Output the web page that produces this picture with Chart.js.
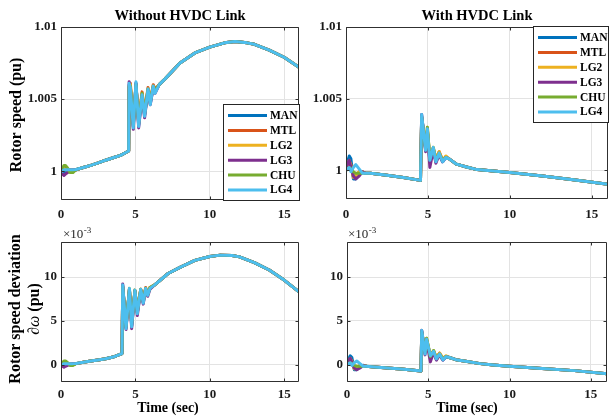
<!DOCTYPE html>
<html>
<head>
<meta charset="utf-8">
<script src="https://cdn.jsdelivr.net/npm/chart.js@4.4.1/dist/chart.umd.min.js"></script>
<style>
  html, body { margin: 0; padding: 0; background: #fff; }
  #page { position: relative; width: 610px; height: 416px; overflow: hidden; }
  .panel { position: absolute; }
</style>
</head>
<body>
<div id="page">
  <canvas id="tl" class="panel" width="305" height="225" style="left:0;top:0"></canvas>
  <canvas id="tr" class="panel" width="305" height="225" style="left:305px;top:0"></canvas>
  <canvas id="bl" class="panel" width="305" height="191" style="left:0;top:225px"></canvas>
  <canvas id="br" class="panel" width="305" height="191" style="left:305px;top:225px"></canvas>
</div>
<script>
//-----------------------------------------------------
// Rotor speed, with / without HVDC link (2x2 panels)
//-----------------------------------------------------

const FONT = '"Liberation Serif", "Times New Roman", serif';

const series = ['MAN', 'MTL', 'LG2', 'LG3', 'CHU', 'LG4'];
const colors = ['#0072BD', '#D95319', '#EDB120', '#7E2F8E', '#77AC30', '#4DBEEE'];

const xTicks = [0, 5, 10, 15];
const xTickLabels = ['0', '5', '10', '15'];
const speedTicks = [1, 1.005, 1.01];
const speedTickLabels = ['1', '1.005', '1.01'];
const devTicks = [0, 5, 10];
const devTickLabels = ['0', '5', '10'];

// ---- top left: rotor speed (pu), without HVDC ----
const timeTL = [0, 0.1, 0.2, 0.3, 0.45, 0.6, 0.8, 1.0,
                1.5, 2, 2.5, 3, 3.5, 4, 4.55,
                4.58, 4.66, 4.86, 5.04, 5.22, 5.45, 5.62, 5.85, 6.0, 6.2, 6.32,
                6.6, 7, 8, 9, 10, 11, 11.7, 12.5, 13, 14, 15, 16];
const earlyTL = [
  [1.0000, 0.9999, 0.9999, 1.0000, 1.0001, 1.0001, 1.0001, 1.0001],
  [1.0000, 1.0001, 1.0002, 1.0002, 1.0001, 1.0001, 1.0001, 1.0001],
  [1.0000, 1.0001, 1.0002, 1.0001, 1.0001, 1.0000, 1.0001, 1.0001],
  [1.0000, 0.9998, 0.9997, 0.9998, 0.9999, 1.0000, 1.0001, 1.0001],
  [1.0000, 1.0002, 1.0004, 1.0004, 1.0002, 0.9999, 0.9999, 1.0001],
  [1.0000, 1.0000, 1.0001, 1.0001, 1.0001, 1.0001, 1.0001, 1.00012]
];
const midTL = [1.00025, 1.0004, 1.00057, 1.00076, 1.00093, 1.0011, 1.0014];
const oscTL = [
  [1.0060, 1.0059, 1.0031, 1.0061, 1.0032, 1.0053, 1.0039, 1.0056, 1.0047, 1.0058, 1.0055],
  [1.0058, 1.0061, 1.0034, 1.0060, 1.0035, 1.0055, 1.0041, 1.0058, 1.0049, 1.0060, 1.0057],
  [1.0059, 1.0060, 1.0033, 1.0059, 1.0034, 1.0054, 1.0040, 1.0057, 1.0049, 1.0059, 1.0056],
  [1.0062, 1.0056, 1.0029, 1.0061, 1.0030, 1.0052, 1.0037, 1.0056, 1.0046, 1.0058, 1.0054],
  [1.0059, 1.0059, 1.0032, 1.0060, 1.0033, 1.0054, 1.0040, 1.0057, 1.0048, 1.0059, 1.0056],
  [1.0061, 1.0058, 1.0030, 1.0062, 1.0031, 1.0053, 1.0038, 1.0057, 1.0046, 1.0059, 1.0054]
];
const tailTL = [1.0060, 1.0064, 1.0075, 1.0082, 1.0086, 1.0089, 1.0090, 1.0089, 1.0088, 1.0084, 1.0079, 1.0072];

// ---- top right: rotor speed (pu), with HVDC ----
const timeTR = [0, 0.1, 0.2, 0.3, 0.45, 0.6, 0.8, 1.0, 1.2,
                1.5, 2.5, 3.5, 4.55,
                4.62, 4.86, 4.97, 5.12, 5.33, 5.49, 5.69, 5.9, 6.1,
                6.3, 6.75, 7.3, 8, 9, 10, 12, 14, 16];
const earlyTR = [
  [1.0000, 1.0006, 1.0010, 1.0008, 0.9994, 0.9994, 0.9998, 0.9999, 0.9998],
  [1.0000, 1.0003, 1.0006, 1.0004, 0.9996, 0.9995, 0.9999, 0.9999, 0.9998],
  [1.0000, 1.0004, 1.0007, 1.0003, 0.9995, 0.9996, 0.9999, 0.9999, 0.9998],
  [1.0000, 1.0005, 1.0007, 1.0002, 0.9996, 0.9994, 0.9996, 0.9999, 0.9998],
  [1.0000, 1.0001, 1.0002, 1.0001, 0.9999, 0.9998, 0.9998, 0.9998, 0.9998],
  [1.0000, 1.0001, 1.0002, 0.9999, 1.0002, 1.0004, 1.0001, 0.9998, 0.9998]
];
const midTR = [0.9998, 0.99965, 0.9995, 0.9993];
const oscTR = [
  [1.0038, 1.0015, 1.0028, 1.0006, 1.0015, 1.0006, 1.0011, 1.0006, 1.0009],
  [1.0037, 1.0016, 1.0028, 1.0008, 1.0015, 1.0008, 1.0013, 1.0007, 1.0009],
  [1.0037, 1.0016, 1.0030, 1.0008, 1.0016, 1.0008, 1.0013, 1.0007, 1.0010],
  [1.0039, 1.0013, 1.0027, 1.0002, 1.0014, 1.0005, 1.0011, 1.0006, 1.0009],
  [1.0037, 1.0015, 1.0030, 1.0008, 1.0016, 1.0007, 1.0012, 1.0007, 1.0009],
  [1.0039, 1.0014, 1.0029, 1.0007, 1.0016, 1.0006, 1.0012, 1.0006, 1.0009]
];
const tailTR = [1.0008, 1.00043, 1.00025, 1.00005, 0.99995, 0.99985, 0.9996, 0.99932, 0.99903];

// ---- bottom left: speed deviation (x1e-3 pu), without HVDC ----
const timeBL = [0, 0.1, 0.2, 0.3, 0.45, 0.6, 0.8, 1.0,
                1.5, 2, 2.5, 3, 3.5, 4.1,
                4.15, 4.37, 4.6, 4.75, 4.97, 5.13, 5.36, 5.53, 5.69, 5.83, 5.98,
                6.3, 7.2, 8, 9, 10, 10.7, 11.5, 12, 13, 14, 15, 16];
const earlyBL = [
  [0, -0.1, -0.1, 0, 0.1, 0.1, 0.1, 0.1],
  [0, 0.1, 0.2, 0.2, 0.1, 0.1, 0.1, 0.1],
  [0, 0.1, 0.2, 0.1, 0.1, 0.0, 0.1, 0.1],
  [0, -0.2, -0.3, -0.2, -0.1, 0.0, 0.1, 0.1],
  [0, 0.2, 0.4, 0.4, 0.2, -0.1, -0.1, 0.1],
  [0, 0.0, 0.1, 0.1, 0.1, 0.1, 0.1, 0.12]
];
const midBL = [0.25, 0.4, 0.52, 0.65, 0.85, 1.25];
const oscBL = [
  [9.0, 4.2, 8.6, 4.4, 8.4, 5.9, 8.5, 7.1, 8.6, 8.0, 8.7],
  [8.8, 4.5, 8.5, 4.8, 8.4, 6.2, 8.6, 7.3, 8.8, 8.1, 8.8],
  [8.9, 4.4, 8.6, 4.7, 8.5, 6.1, 8.6, 7.2, 8.7, 8.1, 8.8],
  [9.2, 4.0, 8.6, 4.1, 8.4, 5.6, 8.5, 6.9, 8.6, 7.8, 8.6],
  [8.9, 4.3, 8.7, 4.6, 8.5, 6.0, 8.6, 7.2, 8.7, 8.0, 8.8],
  [9.1, 4.1, 8.7, 4.3, 8.5, 5.8, 8.6, 7.0, 8.7, 7.9, 8.7]
];
const tailBL = [9.1, 10.4, 11.1, 11.9, 12.35, 12.5, 12.45, 12.3, 11.65, 10.8, 9.65, 8.3];

// ---- bottom right: speed deviation (x1e-3 pu), with HVDC ----
const timeBR = [0, 0.1, 0.2, 0.3, 0.45, 0.6, 0.8, 1.0, 1.2,
                1.5, 2.5, 3.5, 4.55,
                4.6, 4.8, 4.9, 5.13, 5.33, 5.5, 5.7, 5.9, 6.1,
                6.3, 6.7, 7.3, 8.2, 9, 10, 12, 14, 16];
const earlyBR = [
  [0, 0.6, 1.0, 0.8, -0.6, -0.6, -0.2, -0.1, -0.2],
  [0, 0.3, 0.6, 0.4, -0.4, -0.5, -0.1, -0.1, -0.2],
  [0, 0.4, 0.7, 0.3, -0.5, -0.4, -0.1, -0.1, -0.2],
  [0, 0.5, 0.7, 0.2, -0.4, -0.6, -0.4, -0.1, -0.2],
  [0, 0.1, 0.2, 0.1, -0.1, -0.2, -0.2, -0.2, -0.2],
  [0, 0.1, 0.2, -0.1, 0.2, 0.4, 0.1, -0.2, -0.2]
];
const midBR = [-0.25, -0.4, -0.55, -0.75];
const oscBR = [
  [3.8, 1.3, 2.8, 0.8, 1.4, 0.6, 1.1, 0.55, 0.9],
  [3.7, 1.5, 2.8, 1.0, 1.5, 0.8, 1.3, 0.65, 0.9],
  [3.7, 1.5, 3.0, 1.0, 1.6, 0.8, 1.3, 0.7, 1.0],
  [3.9, 1.1, 2.7, 0.3, 1.4, 0.5, 1.1, 0.5, 0.9],
  [3.7, 1.4, 3.0, 0.9, 1.6, 0.7, 1.2, 0.65, 0.9],
  [3.9, 1.2, 2.9, 1.0, 1.5, 0.64, 1.2, 0.53, 0.9]
];
const tailBR = [0.8, 0.55, 0.38, 0.1, -0.05, -0.2, -0.45, -0.7, -1.05];

function buildDatasets(time, early, mid, osc, tail) {
    return series.map((name, i) => {
        const ys = [...early[i], ...mid, ...osc[i], ...tail];
        return {
            label: name,
            data: time.map((t, k) => ({ x: t, y: ys[k] })),
            borderColor: colors[i],
            backgroundColor: colors[i],
            borderWidth: 3,
            borderJoinStyle: 'round',
            pointRadius: 0,
            tension: 0,
            order: series.length - 1 - i   // LG4 ends up on top, like the plot order
        };
    });
}

// MATLAB-ish axes box, inward ticks, titles, labels and legend
function decor(cfg) {
    return {
        id: 'decor',
        afterDraw(chart) {
            const ctx = chart.ctx;
            const a = chart.chartArea;
            const sx = chart.scales.x, sy = chart.scales.y;
            const L = Math.round(a.left) + 0.5, R = Math.round(a.right) - 0.5;
            const T = Math.round(a.top) + 0.5, B = Math.round(a.bottom) - 0.5;
            ctx.save();

            ctx.strokeStyle = '#303030';
            ctx.lineWidth = 1;
            ctx.beginPath();
            ctx.rect(L, T, R - L, B - T);
            xTicks.forEach(v => {
                const px = Math.round(sx.getPixelForValue(v)) + 0.5;
                ctx.moveTo(px, B); ctx.lineTo(px, B - 3);
                ctx.moveTo(px, T); ctx.lineTo(px, T + 3);
            });
            cfg.yTicks.forEach(v => {
                const py = Math.round(sy.getPixelForValue(v)) + 0.5;
                ctx.moveTo(L, py); ctx.lineTo(L + 3, py);
                ctx.moveTo(R, py); ctx.lineTo(R - 3, py);
            });
            ctx.stroke();

            ctx.fillStyle = '#000';
            ctx.textBaseline = 'middle';
            ctx.textAlign = 'center';

            if (cfg.title) {
                ctx.font = 'bold 14.5px ' + FONT;
                ctx.fillText(cfg.title, cfg.titleX, cfg.titleY);
            }

            if (cfg.yLabel) {
                ctx.save();
                ctx.translate(cfg.yLabelX, cfg.yLabelY);
                ctx.rotate(-Math.PI / 2);
                ctx.font = 'bold 16px ' + FONT;
                ctx.fillText(cfg.yLabel, 0, 0);
                ctx.restore();
            }

            if (cfg.yLabel2X) {
                // second line: italic d-omega then bold (pu)
                ctx.save();
                ctx.translate(cfg.yLabel2X, cfg.yLabelY);
                ctx.rotate(-Math.PI / 2);
                ctx.textAlign = 'left';
                ctx.font = 'italic 16px ' + FONT;
                const w1 = ctx.measureText('∂ω').width;
                ctx.font = 'bold 16px ' + FONT;
                const w2 = ctx.measureText(' (pu)').width;
                const x0 = -(w1 + w2) / 2;
                ctx.font = 'italic 16px ' + FONT;
                ctx.fillText('∂ω', x0, 0);
                ctx.font = 'bold 16px ' + FONT;
                ctx.fillText(' (pu)', x0 + w1, 0);
                ctx.restore();
            }

            if (cfg.xLabel) {
                ctx.font = 'bold 14px ' + FONT;
                ctx.fillText(cfg.xLabel, cfg.xLabelX, cfg.xLabelY);
            }

            if (cfg.exponent) {
                ctx.textAlign = 'left';
                ctx.textBaseline = 'alphabetic';
                ctx.font = '13px ' + FONT;
                ctx.fillStyle = '#262626';
                const ex = cfg.exponent.x, ey = cfg.exponent.y;
                ctx.fillText('×10', ex, ey);
                const w = ctx.measureText('×10').width;
                ctx.font = '9px ' + FONT;
                ctx.fillText('-3', ex + w + 0.5, ey - 5);
            }

            if (cfg.legend) {
                const lg = cfg.legend;
                ctx.fillStyle = '#fff';
                ctx.fillRect(lg.x, lg.y, lg.w, lg.h);
                ctx.strokeStyle = '#262626';
                ctx.lineWidth = 1;
                ctx.strokeRect(lg.x + 0.5, lg.y + 0.5, lg.w - 1, lg.h - 1);
                ctx.font = 'bold 11.5px ' + FONT;
                ctx.textAlign = 'left';
                ctx.textBaseline = 'middle';
                chart.data.datasets.forEach((ds, i) => {
                    const ly = lg.y + 11.5 + i * 14.9;
                    ctx.strokeStyle = ds.borderColor;
                    ctx.lineWidth = 3;
                    ctx.beginPath();
                    ctx.moveTo(lg.x + 5, ly);
                    ctx.lineTo(lg.x + 44, ly);
                    ctx.stroke();
                    ctx.fillStyle = '#000';
                    ctx.fillText(ds.label, lg.x + 47, ly + 0.5);
                });
            }
            ctx.restore();
        }
    };
}

function makePanel(id, p) {
    const ctx = document.getElementById(id);
    return new Chart(ctx.getContext('2d'), {
        type: 'line',
        data: { datasets: p.datasets },
        options: {
            responsive: false,
            animation: false,
            events: [],
            layout: { padding: p.padding },
            plugins: { legend: { display: false }, tooltip: { enabled: false } },
            scales: {
                x: {
                    type: 'linear',
                    min: 0,
                    max: 16,
                    afterBuildTicks: s => { s.ticks = xTicks.map(v => ({ value: v })); },
                    afterFit: s => { s.height = p.xAxisHeight; s.paddingLeft = 0; s.paddingRight = 0; },
                    grid: { color: '#e3e3e3', drawTicks: false },
                    border: { display: false },
                    ticks: {
                        padding: p.xTickPad,
                        maxRotation: 0,
                        color: '#1a1a1a',
                        font: { family: FONT, size: 13, weight: 'bold' },
                        callback: (v, i) => xTickLabels[i]
                    }
                },
                y: {
                    type: 'linear',
                    min: p.yMin,
                    max: p.yMax,
                    afterBuildTicks: s => { s.ticks = p.yTicks.map(v => ({ value: v })); },
                    afterFit: s => { s.width = p.yAxisWidth; s.paddingTop = 0; s.paddingBottom = 0; },
                    grid: { color: '#e3e3e3', drawTicks: false },
                    border: { display: false },
                    ticks: {
                        padding: 4,
                        color: '#1a1a1a',
                        font: { family: FONT, size: 13, weight: 'bold' },
                        callback: (v, i) => p.yTickLabels[i]
                    }
                }
            }
        },
        plugins: [decor(p.decor)]
    });
}

makePanel('tl', {
    datasets: buildDatasets(timeTL, earlyTL, midTL, oscTL, tailTL),
    yMin: 0.998, yMax: 1.01, yTicks: speedTicks, yTickLabels: speedTickLabels,
    padding: { left: 0, top: 27, right: 6, bottom: 0 },
    yAxisWidth: 61, xAxisHeight: 25, xTickPad: 7,
    decor: {
        yTicks: speedTicks,
        title: 'Without HVDC Link', titleX: 180, titleY: 16,
        yLabel: 'Rotor speed (pu)', yLabelX: 17, yLabelY: 115,
        legend: { x: 223, y: 104, w: 77, h: 97 }
    }
});

makePanel('tr', {
    datasets: buildDatasets(timeTR, earlyTR, midTR, oscTR, tailTR),
    yMin: 0.998, yMax: 1.01, yTicks: speedTicks, yTickLabels: speedTickLabels,
    padding: { left: 0, top: 27, right: 2, bottom: 0 },
    yAxisWidth: 41, xAxisHeight: 26, xTickPad: 8,
    decor: {
        yTicks: speedTicks,
        title: 'With HVDC Link', titleX: 172, titleY: 16,
        legend: { x: 228, y: 26, w: 76, h: 97 }
    }
});

makePanel('bl', {
    datasets: buildDatasets(timeBL, earlyBL, midBL, oscBL, tailBL),
    yMin: -2, yMax: 14, yTicks: devTicks, yTickLabels: devTickLabels,
    padding: { left: 0, top: 17, right: 6, bottom: 0 },
    yAxisWidth: 61, xAxisHeight: 34, xTickPad: 5,
    decor: {
        yTicks: devTicks,
        yLabel: 'Rotor speed deviation', yLabelX: 16, yLabelY: 84,
        yLabel2X: 35,
        xLabel: 'Time (sec)', xLabelX: 168, xLabelY: 183,
        exponent: { x: 63, y: 13 }
    }
});

makePanel('br', {
    datasets: buildDatasets(timeBR, earlyBR, midBR, oscBR, tailBR),
    yMin: -2, yMax: 14, yTicks: devTicks, yTickLabels: devTickLabels,
    padding: { left: 0, top: 17, right: 3, bottom: 0 },
    yAxisWidth: 42, xAxisHeight: 34, xTickPad: 5,
    decor: {
        yTicks: devTicks,
        xLabel: 'Time (sec)', xLabelX: 162, xLabelY: 183,
        exponent: { x: 43, y: 13 }
    }
});
</script>
</body>
</html>
